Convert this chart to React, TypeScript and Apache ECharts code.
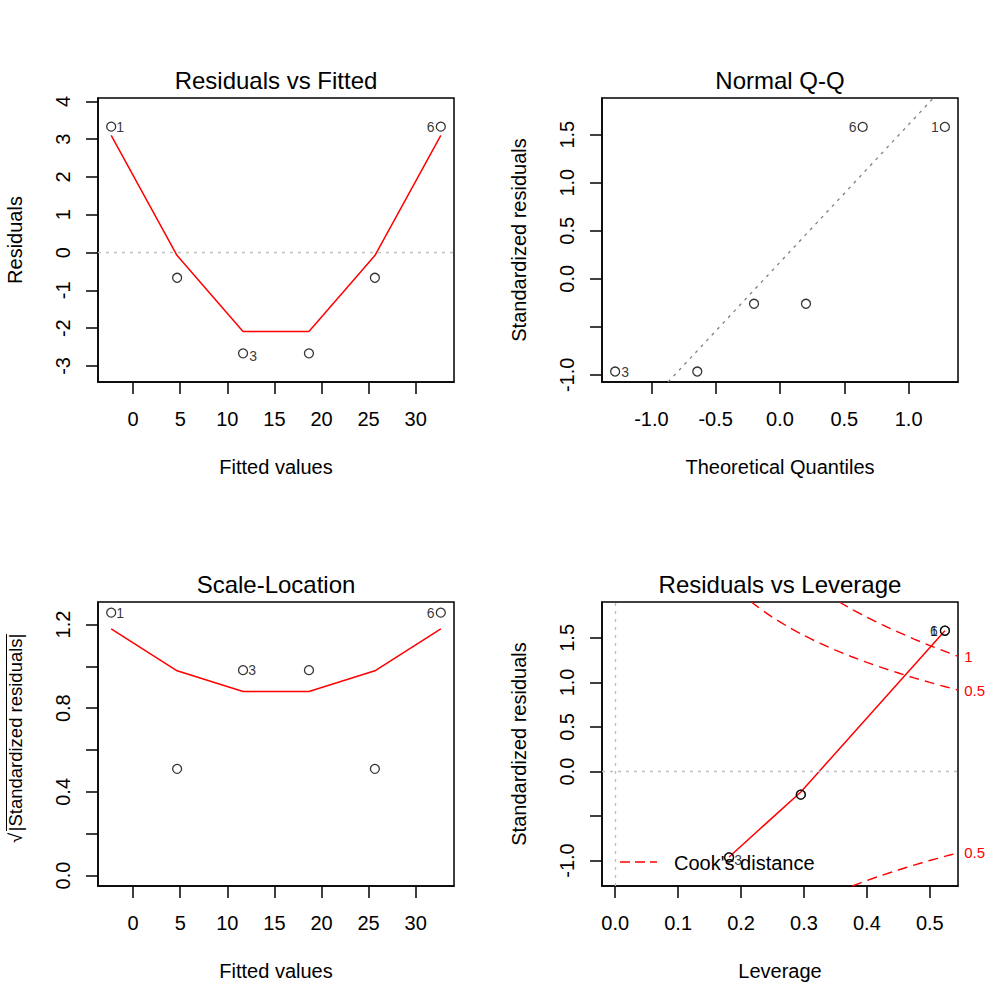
import React, { useEffect, useRef } from "react";
import * as echarts from "echarts";

// ---------- data ----------
const obsIds = ["1", "2", "3", "4", "5", "6"];
const fittedValues = [-2.333, 4.667, 11.667, 18.667, 25.667, 32.667];
const residuals = [3.333, -0.667, -2.667, -2.667, -0.667, 3.333];
const residualSmooth = [3.1, -0.08, -2.09, -2.09, -0.08, 3.1];
const sqrtAbsStdResiduals = [1.257, 0.51, 0.982, 0.982, 0.51, 1.257];
const scaleSmooth = [1.179, 0.979, 0.88, 0.88, 0.979, 1.179];
const stdResiduals = [1.581, -0.26, -0.965, -0.965, -0.26, 1.581];
const leverage = [0.524, 0.295, 0.181, 0.181, 0.295, 0.524];

const qqTheoretical = [-1.282, -0.643, -0.202, 0.202, 0.643, 1.282];
const qqSample = [-0.965, -0.965, -0.26, -0.26, 1.581, 1.581];
const qqIds = ["3", "4", "2", "5", "6", "1"];
const qqLineX = [-0.87, 1.193];
const qqLineY = [-1.074, 1.8815];

const levSmoothX = [0.181, 0.295, 0.524];
const levSmoothY = [-0.96, -0.23, 1.58];

const cook05UpperX = [0.216, 0.225, 0.25, 0.275, 0.3, 0.325, 0.35, 0.375, 0.4, 0.425, 0.45, 0.475, 0.5, 0.525, 0.545];
const cook05UpperY = [1.905, 1.856, 1.732, 1.624, 1.528, 1.441, 1.363, 1.291, 1.225, 1.163, 1.106, 1.051, 1.0, 0.951, 0.914];
const cook1UpperX = [0.356, 0.375, 0.4, 0.425, 0.45, 0.475, 0.5, 0.525, 0.545];
const cook1UpperY = [1.903, 1.826, 1.732, 1.645, 1.564, 1.487, 1.414, 1.346, 1.292];
const cook05LowerX = [0.377, 0.4, 0.425, 0.45, 0.475, 0.5, 0.525, 0.545];
const cook05LowerY = [-1.286, -1.225, -1.163, -1.106, -1.051, -1.0, -0.951, -0.914];

const labelledIds = ["1", "3", "6"];

// ticks / labels
const fittedTicks = [0, 5, 10, 15, 20, 25, 30];
const residTicks = [-3, -2, -1, 0, 1, 2, 3, 4];
const qqXTicks = [-1, -0.5, 0, 0.5, 1];
const stdTicks = [-1, -0.5, 0, 0.5, 1, 1.5];
const stdLabels = [-1, 0, 0.5, 1, 1.5];
const scaleTicks = [0, 0.2, 0.4, 0.6, 0.8, 1.0, 1.2];
const scaleLabels = [0, 0.4, 0.8, 1.2];
const levTicks = [0, 0.1, 0.2, 0.3, 0.4, 0.5];

const captions = ["Residuals vs Fitted", "Normal Q-Q", "Scale-Location", "Residuals vs Leverage"];
const xTitles = ["Fitted values", "Theoretical Quantiles", "Fitted values", "Leverage"];
const yTitles = ["Residuals", "Standardized residuals", "", "Standardized residuals"];

// ---------- layout ----------
const FONT = '"Liberation Sans", Arial, Helvetica, sans-serif';
const COLS = [98, 602];
const ROWS = [98, 602];
const PW = 356;
const PH = 284;
const RED = "#ff0000";

const pair = (xs: number[], ys: number[]) => xs.map((x, i) => [x, ys[i]]);

function xAxis(gi: number, min: number, max: number, ticks: number[], labels: number[], dec: boolean) {
  return {
    type: "value",
    gridIndex: gi,
    min,
    max,
    splitLine: { show: false },
    axisLine: { show: true, onZero: false, lineStyle: { color: "#000", width: 1.5 } },
    axisTick: { show: true, inside: false, length: 12, customValues: ticks, lineStyle: { color: "#000", width: 1.5 } },
    axisLabel: {
      customValues: labels,
      margin: 27,
      fontSize: 20,
      fontFamily: FONT,
      color: "#000",
      formatter: (v: number) => (dec ? v.toFixed(1) : String(v)),
    },
  };
}

function yAxis(gi: number, min: number, max: number, ticks: number[], labels: number[], dec: boolean) {
  return {
    type: "value",
    gridIndex: gi,
    min,
    max,
    splitLine: { show: false },
    axisLine: { show: true, onZero: false, lineStyle: { color: "#000", width: 1.5 } },
    axisTick: { show: true, inside: false, length: 12, customValues: ticks, lineStyle: { color: "#000", width: 1.5 } },
    axisLabel: {
      customValues: labels,
      margin: 25,
      rotate: 90,
      fontSize: 20,
      fontFamily: FONT,
      color: "#000",
      formatter: (v: number) => (dec ? v.toFixed(1) : String(v)),
    },
  };
}

type LabelSpec = { [id: string]: { pos: string; offset?: number[]; distance?: number } };

function pointData(xs: number[], ys: number[], ids: string[], spec: LabelSpec) {
  return xs.map((x, i) => {
    const id = ids[i];
    const s = labelledIds.includes(id) ? spec[id] : undefined;
    return {
      value: [x, ys[i]],
      label: s
        ? {
            show: true,
            formatter: id,
            position: s.pos,
            distance: s.distance ?? 0,
            offset: s.offset ?? [0, 0],
            fontSize: 14,
            fontFamily: FONT,
            color: "#000",
          }
        : { show: false },
    };
  });
}

function scatter(gi: number, data: any[]) {
  return {
    type: "scatter",
    xAxisIndex: gi,
    yAxisIndex: gi,
    symbol: "circle",
    symbolSize: 9,
    silent: true,
    z: 5,
    itemStyle: { color: "rgba(0,0,0,0)", borderColor: "#000", borderWidth: 1.3 },
    data,
  };
}

function line(gi: number, data: number[][], style: any, extra: any = {}) {
  return {
    type: "line",
    xAxisIndex: gi,
    yAxisIndex: gi,
    symbol: "none",
    silent: true,
    clip: true,
    lineStyle: style,
    data,
    ...extra,
  };
}

function refLine(gi: number, axis: "xAxis" | "yAxis") {
  return {
    type: "line",
    xAxisIndex: gi,
    yAxisIndex: gi,
    data: [],
    silent: true,
    markLine: {
      silent: true,
      symbol: ["none", "none"],
      label: { show: false },
      lineStyle: { color: "#bebebe", type: [3, 5], width: 1.3 },
      data: [{ [axis]: 0 }],
    },
  };
}

function textEl(text: string, x: number, y: number, size: number, opts: any = {}) {
  return {
    type: "text",
    x,
    y,
    rotation: opts.rotation ?? 0,
    silent: true,
    style: {
      text,
      fill: opts.color ?? "#000",
      fontSize: size,
      fontFamily: FONT,
      align: opts.align ?? "center",
      verticalAlign: "middle",
    },
  };
}

export default function App() {
  const ref = useRef<HTMLDivElement>(null);

  useEffect(() => {
    if (!ref.current) return;
    const chart = echarts.init(ref.current, undefined, { renderer: "svg" });

    const grids = [0, 1, 2, 3].map((i) => ({
      left: COLS[i % 2],
      top: ROWS[Math.floor(i / 2)],
      width: PW,
      height: PH,
      show: true,
      borderColor: "#000",
      borderWidth: 1.5,
      backgroundColor: "transparent",
    }));

    const graphics: any[] = [];
    captions.forEach((c, i) => {
      const cx = COLS[i % 2] + PW / 2;
      const top = ROWS[Math.floor(i / 2)];
      graphics.push(textEl(c, cx, top - 18, 24));
      graphics.push(textEl(xTitles[i], cx, top + PH + 84.5, 20));
      if (yTitles[i]) {
        graphics.push(textEl(yTitles[i], COLS[i % 2] - 83, top + PH / 2, 20, { rotation: Math.PI / 2 }));
      }
    });
    // sqrt(|Standardized residuals|) label
    graphics.push(textEl("|Standardized residuals|", 15, 732.5, 18.5, { rotation: Math.PI / 2 }));
    graphics.push(textEl("\u221A", 15, 838, 18.5, { rotation: Math.PI / 2 }));
    graphics.push({
      type: "line",
      silent: true,
      shape: { x1: 6.5, y1: 634, x2: 6.5, y2: 831 },
      style: { stroke: "#000", lineWidth: 1 },
    });
    // Cook's distance legend
    graphics.push({
      type: "line",
      silent: true,
      shape: { x1: 620, y1: 862, x2: 657, y2: 862 },
      style: { stroke: RED, lineWidth: 1.4, lineDash: [10, 5] },
    });
    graphics.push(textEl("Cook's distance", 674, 863, 20, { align: "left" }));

    const redStyle = { color: RED, width: 1.5 };
    const cookStyle = { color: RED, width: 1.4, type: [10, 6] };
    const endLab = (t: string) => ({
      endLabel: { show: true, formatter: t, color: RED, fontSize: 15, fontFamily: FONT, distance: 6 },
    });

    const option: any = {
      animation: false,
      backgroundColor: "#fff",
      grid: grids,
      xAxis: [
        xAxis(0, -3.733, 34.067, fittedTicks, fittedTicks, false),
        xAxis(1, -1.384, 1.384, qqXTicks, qqXTicks, true),
        xAxis(2, -3.733, 34.067, fittedTicks, fittedTicks, false),
        xAxis(3, -0.02095, 0.5448, levTicks, levTicks, true),
      ],
      yAxis: [
        yAxis(0, -3.425, 4.091, residTicks, residTicks, false),
        yAxis(1, -1.074, 1.8815, stdTicks, stdLabels, true),
        yAxis(2, -0.0503, 1.308, scaleTicks, scaleLabels, true),
        yAxis(3, -1.286, 1.903, stdTicks, stdLabels, true),
      ],
      graphic: graphics,
      series: [
        // Panel 1: Residuals vs Fitted
        refLine(0, "yAxis"),
        line(0, pair(fittedValues, residualSmooth), redStyle),
        scatter(
          0,
          pointData(fittedValues, residuals, obsIds, {
            "1": { pos: "right" },
            "3": { pos: "right", offset: [1, 3] },
            "6": { pos: "left", distance: 1 },
          })
        ),
        // Panel 2: Normal Q-Q
        line(1, pair(qqLineX, qqLineY), { color: "#7f7f7f", width: 1.3, type: [3, 5] }),
        scatter(
          1,
          pointData(qqTheoretical, qqSample, qqIds, {
            "3": { pos: "right", distance: 1 },
            "6": { pos: "left", distance: 1 },
            "1": { pos: "left", distance: 1 },
          })
        ),
        // Panel 3: Scale-Location
        line(2, pair(fittedValues, scaleSmooth), redStyle),
        scatter(
          2,
          pointData(fittedValues, sqrtAbsStdResiduals, obsIds, {
            "1": { pos: "right" },
            "3": { pos: "right" },
            "6": { pos: "left", distance: 1 },
          })
        ),
        // Panel 4: Residuals vs Leverage
        refLine(3, "yAxis"),
        refLine(3, "xAxis"),
        line(3, pair(cook05UpperX, cook05UpperY), cookStyle, { smooth: 0.3, ...endLab("0.5") }),
        line(3, pair(cook1UpperX, cook1UpperY), cookStyle, { smooth: 0.3, ...endLab("1") }),
        line(3, pair(cook05LowerX, cook05LowerY), cookStyle, { smooth: 0.3, ...endLab("0.5") }),
        line(3, pair(levSmoothX, levSmoothY), redStyle),
        scatter(
          3,
          pointData(leverage, stdResiduals, obsIds, {
            "1": { pos: "left", distance: 2 },
            "6": { pos: "left", distance: 2 },
            "3": { pos: "right", offset: [0, 3] },
          })
        ),
      ],
    };

    chart.setOption(option);
    return () => chart.dispose();
  }, []);

  return (
    <div
      ref={ref}
      style={{ position: "fixed", left: 0, top: 0, width: 1008, height: 1008, background: "#fff" }}
    />
  );
}
